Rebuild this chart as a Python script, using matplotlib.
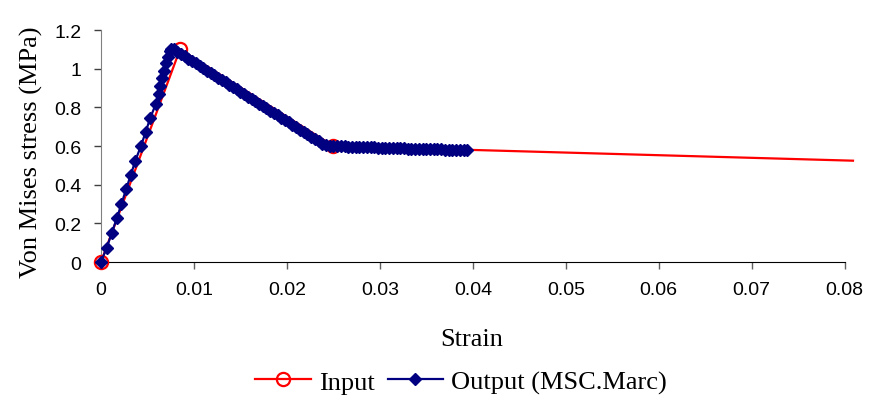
import matplotlib.pyplot as plt

# ====== DATA ======
in_strain = [0.0, 0.0085, 0.025, 0.0809]
in_stress = [0.0, 1.10, 0.60, 0.524]

# elastic branch
el_strain = [0.0, 0.0006, 0.00115, 0.0017, 0.0022, 0.0027, 0.0032, 0.0037, 0.0043,
             0.0048, 0.0053, 0.0059, 0.0062, 0.0064, 0.0066, 0.0068, 0.0070, 0.0072,
             0.0074, 0.0075]
el_stress = [0.0, 0.072, 0.149, 0.226, 0.300, 0.376, 0.450, 0.525, 0.600,
             0.672, 0.745, 0.818, 0.870, 0.910, 0.950, 0.990, 1.030, 1.060,
             1.090, 1.100]

# softening branch
sf_strain = [0.0078, 0.0082, 0.0086, 0.0090, 0.0094, 0.0098, 0.0102, 0.0106, 0.0110,
             0.0114, 0.0118, 0.0122, 0.0126, 0.0130, 0.0134, 0.0138, 0.0142, 0.0146,
             0.0150, 0.0154, 0.0158, 0.0162, 0.0166, 0.0170, 0.0174, 0.0178, 0.0182,
             0.0186, 0.0190, 0.0194, 0.0198, 0.0202, 0.0206, 0.0210, 0.0214, 0.0218,
             0.0222, 0.0226, 0.0230, 0.0234, 0.0238, 0.0242, 0.0246]
sf_stress = [1.100, 1.088, 1.076, 1.063, 1.051, 1.039, 1.027, 1.015, 1.002,
             0.990, 0.978, 0.966, 0.954, 0.941, 0.929, 0.917, 0.905, 0.893,
             0.880, 0.868, 0.856, 0.844, 0.832, 0.819, 0.807, 0.795, 0.783,
             0.771, 0.758, 0.746, 0.734, 0.722, 0.710, 0.697, 0.685, 0.673,
             0.661, 0.649, 0.636, 0.624, 0.612, 0.603, 0.600]

# residual branch
rs_strain = [0.0250, 0.0254, 0.0258, 0.0262, 0.0266, 0.0270, 0.0274, 0.0278, 0.0282,
             0.0286, 0.0290, 0.0294, 0.0298, 0.0302, 0.0306, 0.0310, 0.0314, 0.0318,
             0.0322, 0.0326, 0.0330, 0.0334, 0.0338, 0.0342, 0.0346, 0.0350, 0.0354,
             0.0358, 0.0362, 0.0366, 0.0370, 0.0374, 0.0378, 0.0382, 0.0386, 0.0390,
             0.0394]
rs_stress = [0.599, 0.599, 0.598, 0.598, 0.597, 0.596, 0.596, 0.595, 0.595,
             0.594, 0.593, 0.593, 0.592, 0.592, 0.591, 0.590, 0.590, 0.589,
             0.589, 0.588, 0.587, 0.587, 0.586, 0.586, 0.585, 0.584, 0.584,
             0.583, 0.583, 0.582, 0.581, 0.581, 0.580, 0.580, 0.579, 0.578,
             0.578]

out_strain = el_strain + sf_strain + rs_strain
out_stress = el_stress + sf_stress + rs_stress

xticks = [0, 0.01, 0.02, 0.03, 0.04, 0.05, 0.06, 0.07, 0.08]
xtick_labels = ["0", "0.01", "0.02", "0.03", "0.04", "0.05", "0.06", "0.07", "0.08"]
yticks = [0, 0.2, 0.4, 0.6, 0.8, 1.0, 1.2]
ytick_labels = ["0", "0.2", "0.4", "0.6", "0.8", "1", "1.2"]

# ====== PLOT ======
fig = plt.figure(figsize=(8.69, 4.06), dpi=100)
ax = fig.add_axes([101/869, 1 - 263/406, (853 - 101)/869, (263 - 31)/406])

ax.plot(in_strain, in_stress, color="#ff0000", lw=1.6, marker="o", ms=9.5,
        mfc="none", mec="#ff0000", mew=1.6, markevery=[0, 1, 2], clip_on=False,
        label="Input", zorder=3)
ax.plot(out_strain, out_stress, color="#000080", lw=1.6, marker="D", ms=6,
        mfc="#000080", mec="#000080", clip_on=False,
        label="Output (MSC.Marc)", zorder=4)

ax.set_xlim(0, 0.0809)
ax.set_ylim(0, 1.2)

ax.spines["top"].set_visible(False)
ax.spines["right"].set_visible(False)
ax.spines["left"].set_color("#808080")
ax.spines["bottom"].set_color("#000000")
ax.spines["bottom"].set_bounds(0, 0.08)

ax.set_xticks(xticks)
ax.set_xticklabels(xtick_labels, fontfamily="Liberation Sans", fontsize=14)
ax.set_yticks(yticks)
ax.set_yticklabels(ytick_labels, fontfamily="Liberation Sans", fontsize=14)
ax.tick_params(axis="x", direction="out", length=5, width=1, color="#606060", pad=9)
ax.tick_params(axis="y", direction="out", length=5, width=1, color="#404040", pad=9)

fig.text(31/869, 1 - 152/406, "Von Mises stress (MPa)", rotation=90,
         ha="center", va="center", fontfamily="Liberation Serif", fontsize=19)
fig.text(472/869, 1 - 340/406, "Strain", ha="center", va="center",
         fontfamily="Liberation Serif", fontsize=19)

fig.legend(loc="center", bbox_to_anchor=(461/869, 1 - 383/406), ncol=2,
           frameon=False, prop={"family": "Liberation Serif", "size": 19},
           handlelength=2.1, handletextpad=0.3, columnspacing=0.5,
           borderaxespad=0, borderpad=0)

fig.savefig("out.png", dpi=100)
